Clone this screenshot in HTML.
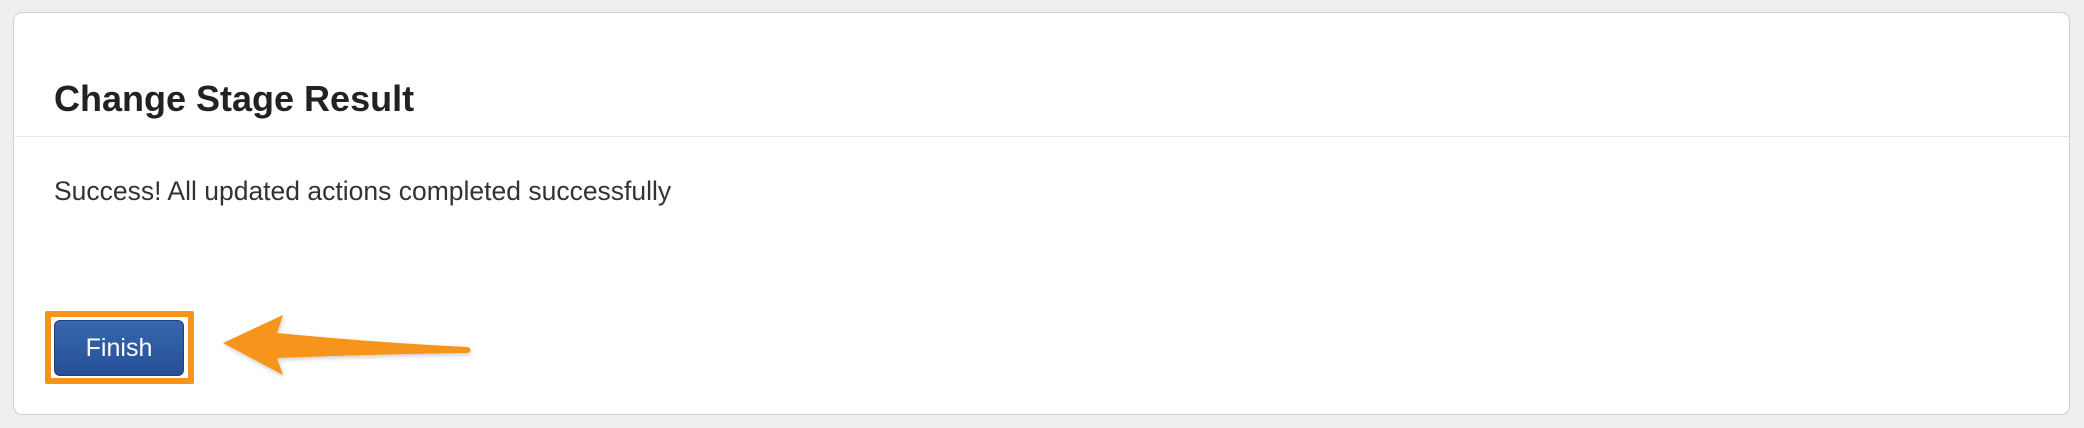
<!DOCTYPE html>
<html><head><meta charset="utf-8"><style>
html,body{margin:0;padding:0;}
body{width:2084px;height:428px;background:#efefef;position:relative;overflow:hidden;font-family:"Liberation Sans",Arial,sans-serif;}
.panel{position:absolute;left:13px;top:12px;width:2057px;height:403px;background:#fff;border:1px solid #d0d0d0;border-radius:9px;box-sizing:border-box;}
.title{position:absolute;left:54px;top:81px;font-size:36px;font-weight:bold;color:#222;line-height:1;white-space:nowrap;}
.hr{position:absolute;left:14px;top:136px;width:2055px;border-top:1px dotted #d2d2d2;}
.msg{position:absolute;left:54px;top:178px;font-size:26.5px;color:#333;line-height:1;white-space:nowrap;}
.hl{position:absolute;left:45px;top:311px;width:149px;height:73px;border:6px solid #f7941d;box-sizing:border-box;border-radius:2px;}
.btn{position:absolute;left:54px;top:320px;width:130px;height:56px;background:linear-gradient(#3767b0,#254f95);border:1px solid #1d3f7a;border-radius:6px;box-sizing:border-box;color:#fff;font-size:25px;text-align:center;line-height:54px;}
</style></head><body>
<div class="panel"></div>
<div class="title">Change Stage Result</div>
<div class="hr"></div>
<div class="msg">Success! All updated actions completed successfully</div>
<div class="hl"></div>
<div class="btn">Finish</div>
<svg style="position:absolute;left:0;top:0" width="2084" height="428">
<defs><filter id="s" x="-10%" y="-20%" width="130%" height="150%"><feDropShadow dx="1" dy="2" stdDeviation="2" flood-color="#000" flood-opacity="0.2"/></filter></defs>
<path d="M223,343 L283,315 L277,333 Q380,343 468,347 Q473,350 468,353 Q380,354 277,358 L283,375 Z" fill="#f7941d" filter="url(#s)"/>
</svg>
</body></html>
